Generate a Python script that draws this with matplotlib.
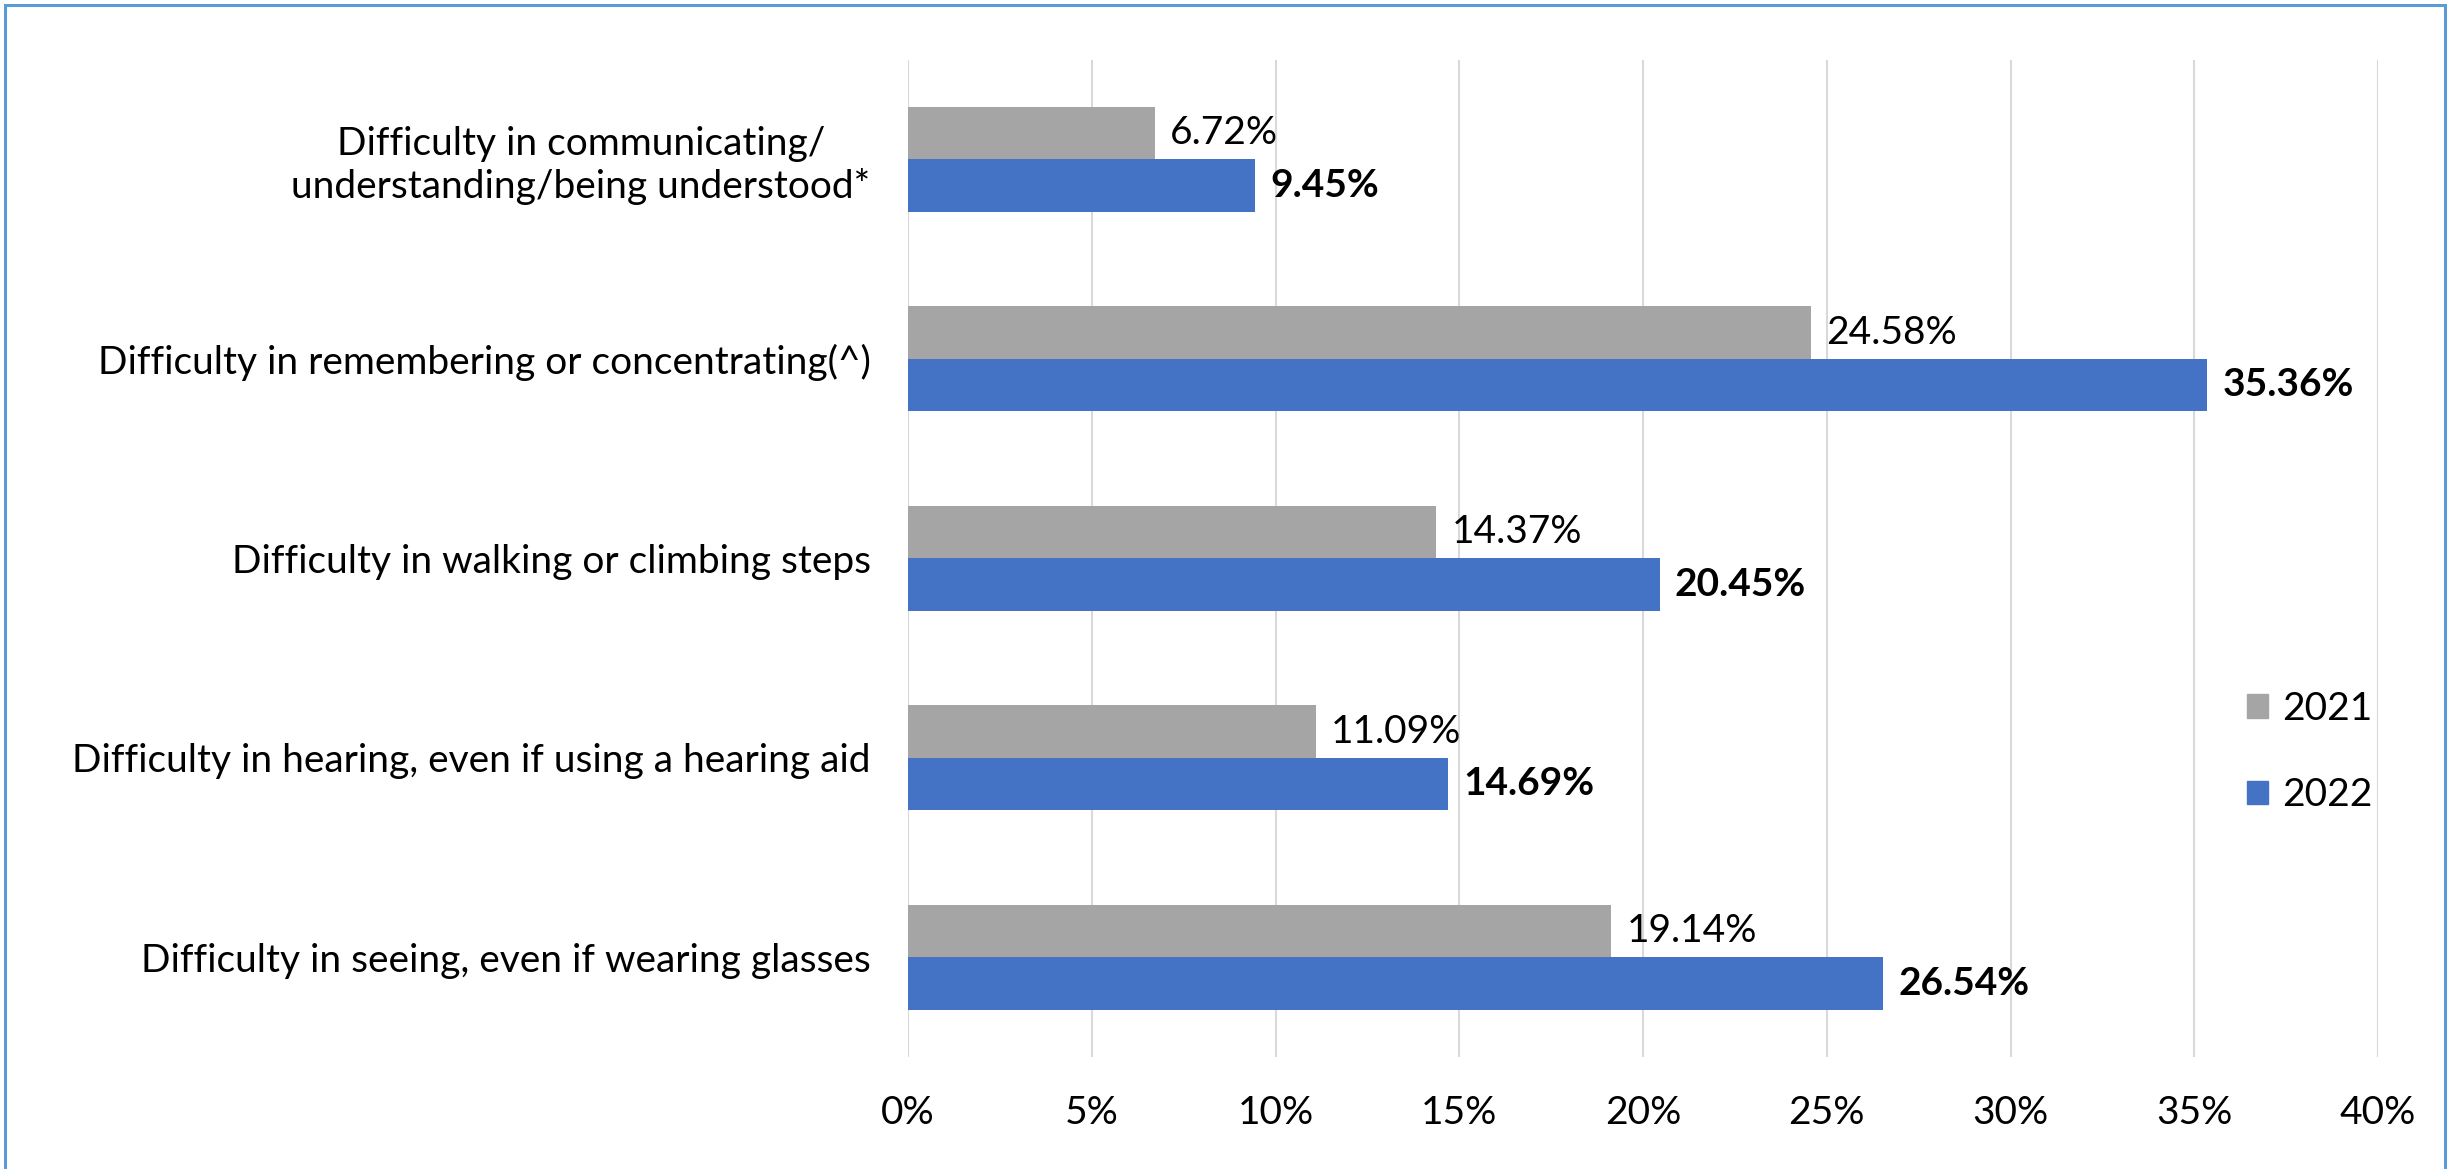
import matplotlib
matplotlib.use("Agg")
import matplotlib.pyplot as plt
from matplotlib.patches import Rectangle, Patch
import numpy as np

categories = [
    "Difficulty in communicating/\nunderstanding/being understood*",
    "Difficulty in remembering or concentrating(^)",
    "Difficulty in walking or climbing steps",
    "Difficulty in hearing, even if using a hearing aid",
    "Difficulty in seeing, even if wearing glasses",
]
values_2021 = [6.72, 24.58, 14.37, 11.09, 19.14]
values_2022 = [9.45, 35.36, 20.45, 14.69, 26.54]
series_names = ["2021", "2022"]
xticks = [0, 5, 10, 15, 20, 25, 30, 35, 40]

C21 = "#A5A5A5"
C22 = "#4472C4"
FONT = "Lato"
FS = 28

W, H, DPI = 2455, 1169, 100
fig = plt.figure(figsize=(W / DPI, H / DPI), dpi=DPI)
fig.patch.set_facecolor("white")

# outer border
fig.add_artist(Rectangle((5 / W, -0.05), (2440) / W, 1.05 - 5 / H,
                         transform=fig.transFigure, fill=False,
                         edgecolor="#5B9BD5", linewidth=2.2))

ax = fig.add_axes([908 / W, 1 - 1057 / H, (2378 - 908) / W, (1057 - 59.5) / H])
y = np.arange(len(categories))
h = 0.263
b1 = ax.barh(y - h / 2, values_2021, height=h, color=C21, label=series_names[0])
b2 = ax.barh(y + h / 2, values_2022, height=h, color=C22, label=series_names[1])

ax.set_xlim(0, 40)
ax.set_ylim(len(categories) - 0.5, -0.5)
ax.set_xticks(xticks)
ax.set_xticklabels([f"{t}%" for t in xticks], fontsize=FS, family=FONT)
ax.set_yticks(y)
ax.set_yticklabels(categories, fontsize=FS, family=FONT)
for lab in ax.get_yticklabels():
    lab.set_multialignment("center")
ax.tick_params(axis="both", length=0)
ax.tick_params(axis="x", pad=27)
ax.tick_params(axis="y", pad=27)
for s in ax.spines.values():
    s.set_visible(False)
ax.set_axisbelow(True)
ax.grid(axis="x", color="#D9D9D9", linewidth=1.5)
ax.grid(axis="y", visible=False)

for rect, v in zip(b1, values_2021):
    ax.annotate(f"{v:.2f}%", (v, rect.get_y() + rect.get_height() / 2),
                xytext=(11, 0), textcoords="offset points", va="center", ha="left",
                fontsize=FS, family=FONT)
for rect, v in zip(b2, values_2022):
    ax.annotate(f"{v:.2f}%", (v, rect.get_y() + rect.get_height() / 2),
                xytext=(11, 0), textcoords="offset points", va="center", ha="left",
                fontsize=FS, family=FONT, fontweight="bold")

handles = [Patch(color=C21), Patch(color=C22)]
leg = fig.legend(handles, series_names, loc="center left",
                 bbox_to_anchor=(2212 / W, 1 - 752 / H), frameon=False,
                 prop={"family": FONT, "size": FS}, handlelength=0.55, handleheight=0.55,
                 handletextpad=0.35, labelspacing=1.3)

fig.savefig("out.png", dpi=DPI, facecolor="white")
